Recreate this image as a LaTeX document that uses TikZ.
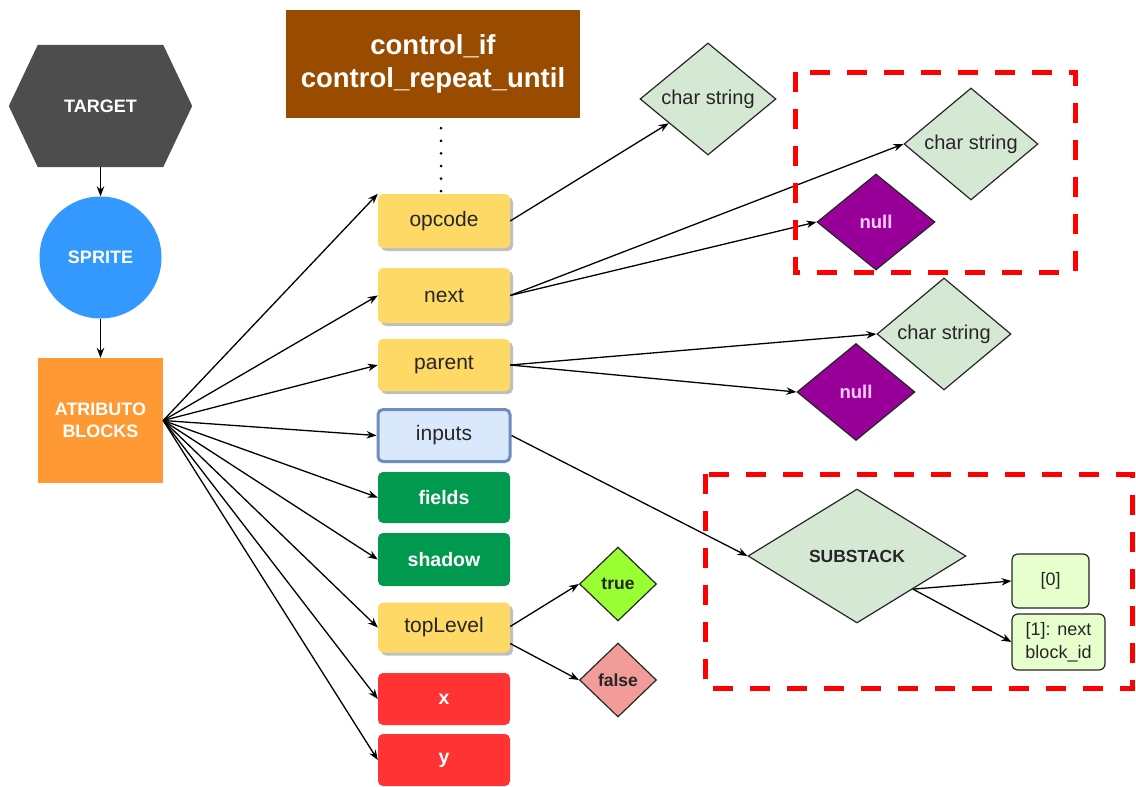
\documentclass[tikz,border=0pt]{standalone}
\usepackage{fontspec}
\setmainfont{Liberation Sans}
\usetikzlibrary{shapes.geometric,arrows.meta,shadows,calc,backgrounds}

\definecolor{targetgray}{HTML}{4D4D4D}
\definecolor{spriteblue}{HTML}{3399FF}
\definecolor{blockorange}{HTML}{FF9933}
\definecolor{ctrlbrown}{HTML}{994C00}
\definecolor{yellowbox}{HTML}{FFD966}
\definecolor{inputfill}{HTML}{DAE8FC}
\definecolor{inputline}{HTML}{6C8EBF}
\definecolor{greenbox}{HTML}{00994D}
\definecolor{redbox}{HTML}{FF3333}
\definecolor{strfill}{HTML}{D5E8D4}
\definecolor{nullfill}{HTML}{990099}
\definecolor{nulltext}{HTML}{FFCCFF}
\definecolor{truefill}{HTML}{99FF33}
\definecolor{falsefill}{HTML}{F19C99}
\definecolor{idxfill}{HTML}{E6FFCC}
\definecolor{textdark}{HTML}{262626}

\begin{document}
\begin{tikzpicture}[x=1pt,y=-1pt,
  conn/.style={draw=black, line width=1.3pt, -{Stealth[length=10pt,width=7.5pt]}},
  field/.style={rectangle, rounded corners=5pt, minimum width=132pt, minimum height=52pt, inner sep=0pt},
  yel/.style={field, fill=yellowbox, text=textdark,
    drop shadow={shadow xshift=3pt, shadow yshift=-3pt, fill=black, opacity=0.25},
    font=\fontsize{21}{25}\selectfont},
  grn/.style={field, fill=greenbox, text=white, font=\bfseries\fontsize{19.5}{23}\selectfont},
  redb/.style={field, fill=redbox, text=white, font=\bfseries\fontsize{19.5}{23}\selectfont},
  dia/.style={diamond, draw=textdark, line width=1.2pt, inner sep=0pt},
  strdia/.style={dia, fill=strfill, text=textdark, font=\fontsize{20}{24}\selectfont},
  nulldia/.style={dia, fill=nullfill, text=nulltext, minimum width=118pt, minimum height=96pt,
    font=\bfseries\fontsize{18.5}{22}\selectfont},
  tfdia/.style={dia, minimum width=77pt, minimum height=74pt, text=textdark,
    font=\bfseries\fontsize{17.5}{21}\selectfont},
  idxbox/.style={rectangle, rounded corners=6pt, draw=textdark, line width=1.2pt, fill=idxfill,
    text=textdark, inner sep=0pt, align=center, font=\fontsize{18}{23}\selectfont},
  group/.style={draw=red, line width=5pt, dash pattern=on 20pt off 17pt},
  mainlbl/.style={text=white, font=\bfseries\fontsize{18}{22}\selectfont, align=center, inner sep=0pt}
]
\useasboundingbox (0,0) rectangle (1136,787);

% left column: target, sprite, attribute blocks
\node[mainlbl, minimum width=183pt, minimum height=122pt] (target) at (100.5,106) {TARGET};
\begin{scope}[on background layer]
  \fill[targetgray] (target.west) -- ([xshift=29pt]target.north west) -- ([xshift=-29pt]target.north east)
    -- (target.east) -- ([xshift=-29pt]target.south east) -- ([xshift=29pt]target.south west) -- cycle;
\end{scope}
\node[mainlbl, circle, fill=spriteblue, minimum size=122pt] (sprite) at (100.5,257.5) {SPRITE};
\node[mainlbl, rectangle, fill=blockorange, minimum width=125pt, minimum height=125pt] (atr) at (100.5,420.5) {ATRIBUTO\\BLOCKS};

\draw[conn] (target.south) -- (sprite.north);
\draw[conn] (sprite.south) -- (atr.north);

% block header
\node[rectangle, fill=ctrlbrown, text=white, minimum width=294pt, minimum height=108pt, align=center,
  font=\bfseries\fontsize{27.5}{33}\selectfont] (ctrl) at (433,64) {control\_if\\control\_repeat\_until};

% attribute fields
\node[yel, minimum height=54pt] (opcode) at (444,221) {opcode};
\node[yel, minimum height=55pt] (next) at (444,295.5) {next};
\node[yel, minimum height=52pt] (parent) at (444,365) {parent};
\node[field, fill=inputfill, draw=inputline, line width=3pt, minimum width=132pt, minimum height=52pt,
  text=textdark, font=\fontsize{21}{25}\selectfont] (inputs) at (444,435.5) {inputs};
\node[grn, minimum height=51pt] (fields) at (444,497.5) {fields};
\node[grn, minimum height=53pt] (shadow) at (444,559.5) {shadow};
\node[yel, minimum height=50pt] (tl) at (444,627.5) {topLevel};
\node[redb] (xb) at (444,699) {x};
\node[redb] (yb) at (444,760) {y};

\draw[line width=3pt, line cap=round, dash pattern=on 0pt off 12.6pt]
  ([xshift=-3pt,yshift=-10pt]ctrl.south -| opcode.north) -- ([xshift=-3pt,yshift=1pt]opcode.north);

\draw[conn] (atr.east) -- (opcode.north west);
\foreach \n in {next,parent,inputs,fields,shadow,tl,xb,yb}
  \draw[conn] (atr.east) -- (\n.west);

% value diamonds
\node[strdia, minimum width=136pt, minimum height=108pt] (cs1) at (708,99) {char string};
\node[strdia, minimum width=134pt, minimum height=104pt] (cs2) at (971,144) {char string};
\node[nulldia] (null1) at (876,222) {null};
\node[strdia, minimum width=134pt, minimum height=104pt] (cs3) at (944,334) {char string};
\node[nulldia, minimum height=97pt] (null2) at (856,392) {null};

\draw[conn] (opcode.east) -- (cs1);
\draw[conn] (next.east) -- (cs2.west);
\draw[conn] (next.east) -- (null1.west);
\draw[conn] (parent.east) -- (cs3.west);
\draw[conn] (parent.east) -- (null2.west);

% substack
\node[dia, fill=strfill, text=textdark, minimum width=218pt, minimum height=134pt,
  font=\bfseries\fontsize{17.5}{21}\selectfont] (ss) at (857,556) {SUBSTACK};
\node[idxbox, minimum width=77pt, minimum height=54pt] (b0) at (1050.5,581) {[0]};
\node[idxbox, minimum width=93pt, minimum height=56pt] (b1) at (1058.5,642) {[1]: next\\block\_id};
\coordinate (ssout) at ($(ss.east)!0.49!(ss.south)$);

\draw[conn] (inputs.east) -- (ss.west);
\draw[conn] (ssout) -- (b0.west);
\draw[conn] (ssout) -- (b1.west);

% topLevel values
\node[tfdia, fill=truefill] (true) at (618,584) {true};
\node[tfdia, fill=falsefill] (false) at (618,680) {false};
\draw[conn] ([yshift=1pt]tl.east) -- (true.west);
\draw[conn] ([yshift=-16pt]tl.east) -- (false.west);

% highlighted groups
\draw[group] (795,72) rectangle (1075,272);
\draw[group] (705,474) rectangle (1132,688);
\end{tikzpicture}
\end{document}
